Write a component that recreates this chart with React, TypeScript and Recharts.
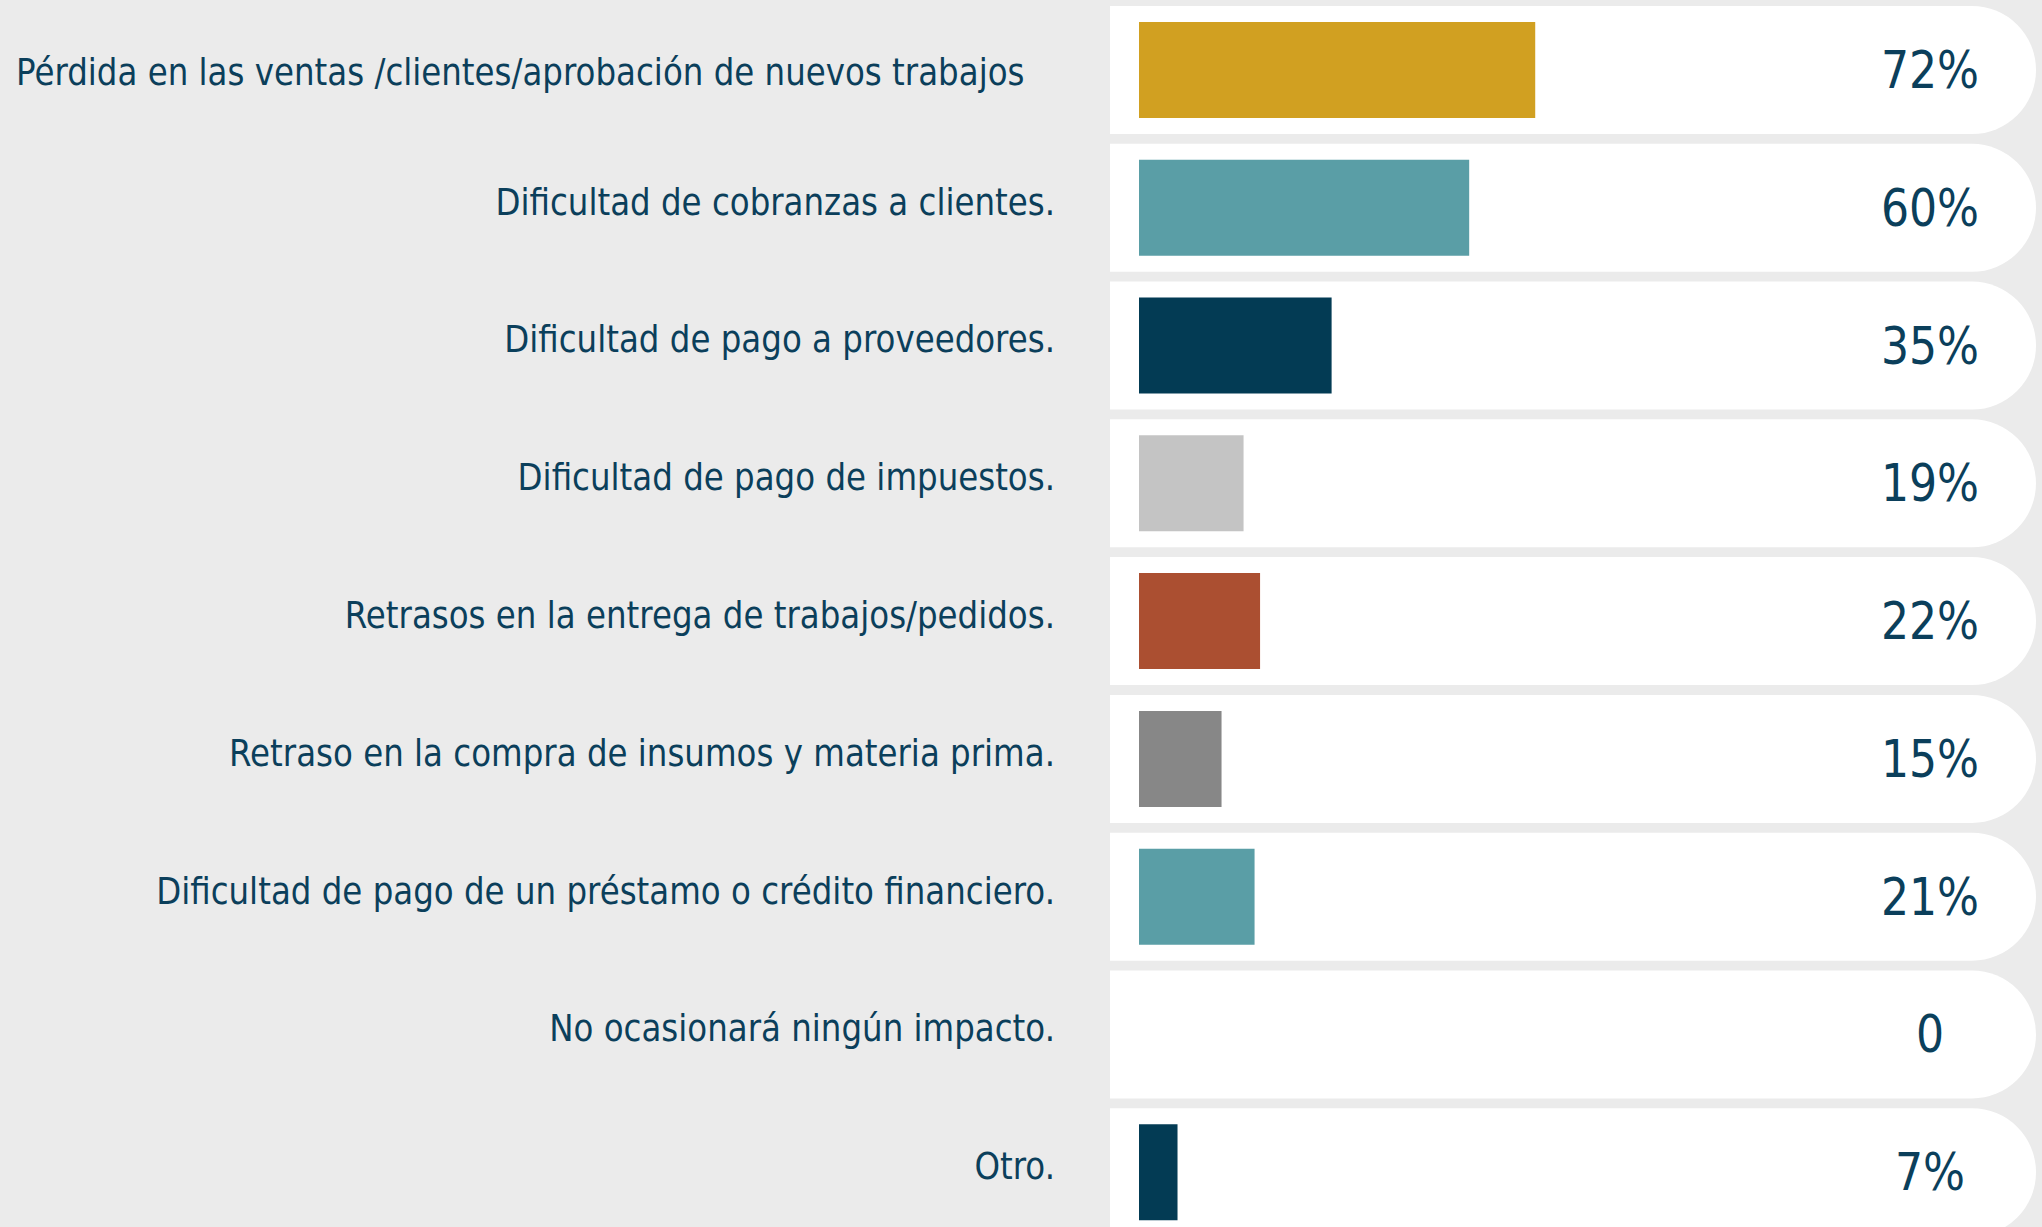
import { BarChart, Bar, XAxis, YAxis, Cell, LabelList } from 'recharts'

const categories = [
  'Pérdida en las ventas /clientes/aprobación de nuevos trabajos',
  'Dificultad de cobranzas a clientes.',
  'Dificultad de pago a proveedores.',
  'Dificultad de pago de impuestos.',
  'Retrasos en la entrega de trabajos/pedidos.',
  'Retraso en la compra de insumos y materia prima.',
  'Dificultad de pago de un préstamo o crédito financiero.',
  'No ocasionará ningún impacto.',
  'Otro.',
]

const values = [72, 60, 35, 19, 22, 15, 21, 0, 7]

const barColors = ['#D1A021', '#5A9EA6', '#033B54', '#C4C4C4', '#AB4F31', '#878787', '#5A9EA6', '#FFFFFF', '#033B54']

const data = categories.map((name, i) => ({ name, value: values[i] }))

const TEXT = '#0B3F5B'
const FONT = '"DejaVu Sans", sans-serif'

// white pill behind each row: square on the left, round on the right
function Pill(props: any) {
  const x = Number(props.x)
  const y = Number(props.y)
  const w = Number(props.width)
  const h = Number(props.height)
  const top = y - 16
  const ph = h + 32
  const r = ph / 2
  const left = x - 29
  const right = x + w
  return (
    <path
      d={`M${left},${top} H${right - r} A${r},${r} 0 0 1 ${right - r},${top + ph} H${left} Z`}
      fill="#FFFFFF"
    />
  )
}

// first label sits in its own left-aligned box in the original
function CategoryTick(props: any) {
  const { x, y, payload, index } = props
  const first = index === 0
  const tx = first ? 16 : x
  const ty = Number(y) + (first ? 15 : 7)
  return (
    <text
      transform={`translate(${tx},${ty}) scale(0.855,1)`}
      textAnchor={first ? 'start' : 'end'}
      fill={TEXT}
      fontSize={38}
      fontFamily={FONT}
    >
      {payload.value}
    </text>
  )
}

function ValueLabel(props: any) {
  const { y, height, value } = props
  const cy = Number(y) + Number(height) / 2
  return (
    <text
      transform={`translate(1930,${cy + 18}) scale(0.85,1)`}
      textAnchor="middle"
      fill={TEXT}
      fontSize={52}
      fontFamily={FONT}
    >
      {value === 0 ? '0' : `${value}%`}
    </text>
  )
}

export default function App() {
  return (
    <div
      style={{
        position: 'absolute',
        left: 0,
        top: 0,
        width: 2042,
        height: 1227,
        overflow: 'hidden',
        background: '#EBEBEB',
      }}
    >
      <BarChart
        width={2042}
        height={1241}
        data={data}
        layout="vertical"
        margin={{ top: 1, right: 6, bottom: 0, left: 0 }}
      >
        <XAxis type="number" domain={[0, 163]} hide />
        <YAxis
          type="category"
          dataKey="name"
          width={1139}
          axisLine={false}
          tickLine={false}
          tickMargin={78}
          interval={0}
          tick={CategoryTick}
        />
        <Bar
          dataKey="value"
          barSize={96}
          minPointSize={1}
          isAnimationActive={false}
          background={Pill}
        >
          {data.map((d, i) => (
            <Cell key={`cell-${i}`} fill={barColors[i]} />
          ))}
          <LabelList dataKey="value" content={ValueLabel} />
        </Bar>
      </BarChart>
    </div>
  )
}
